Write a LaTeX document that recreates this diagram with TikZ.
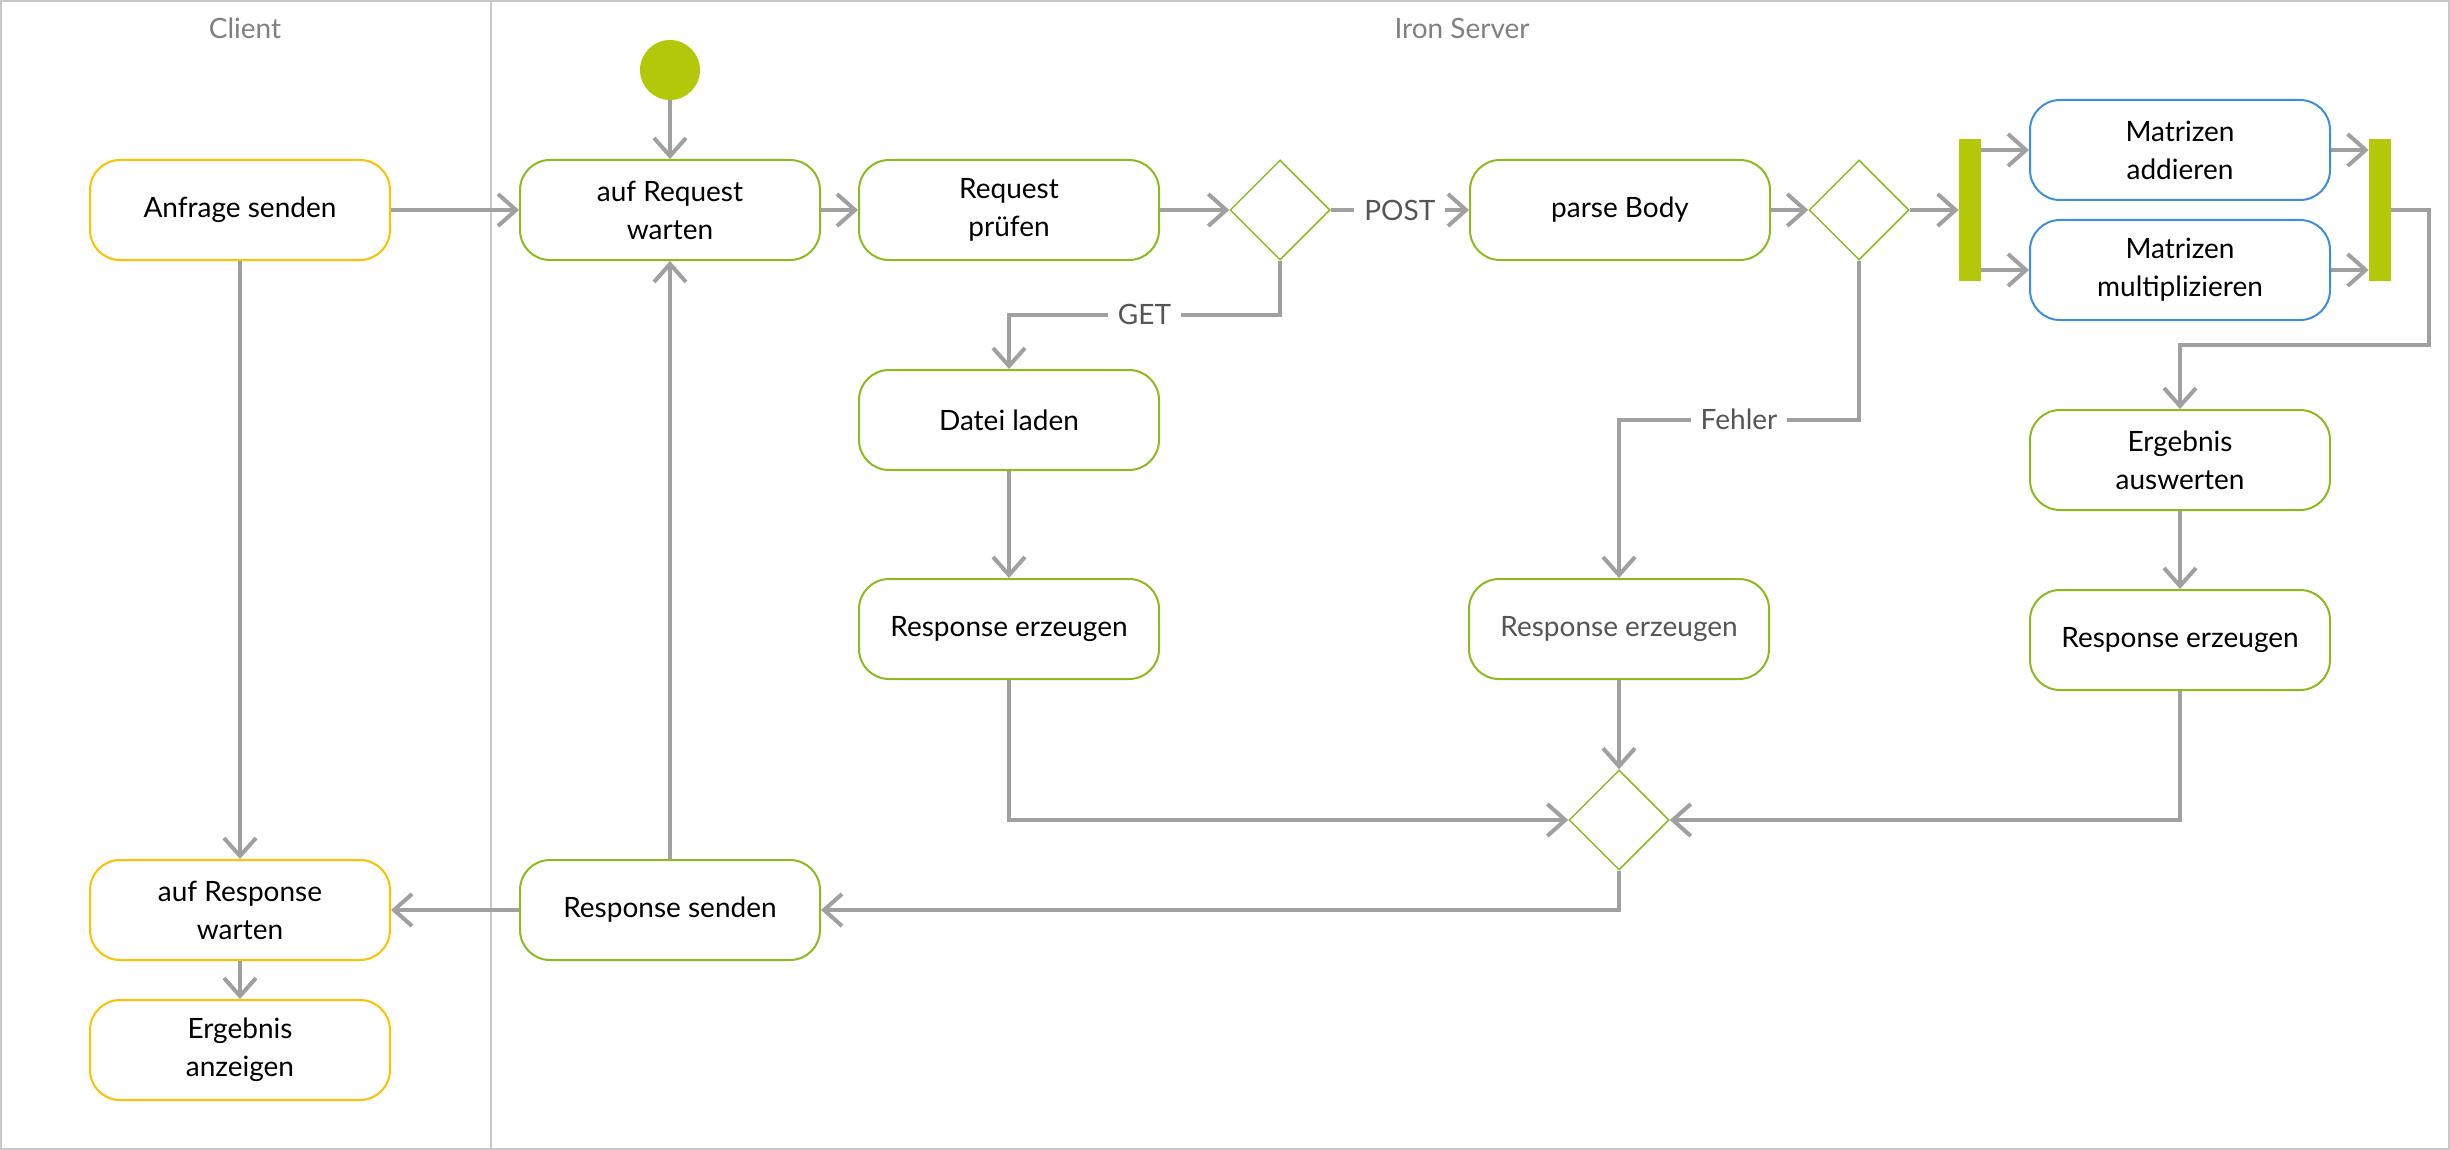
\documentclass[tikz,border=0pt]{standalone}
\usepackage{fontspec}
\setmainfont{Lato}
\usetikzlibrary{shapes.geometric,arrows.meta}
\definecolor{clientcol}{HTML}{FFC000}
\definecolor{srvcol}{HTML}{8DBA1E}
\definecolor{barcol}{HTML}{B4C80A}
\definecolor{parcol}{HTML}{3D8FDC}
\definecolor{flowcol}{HTML}{A0A0A0}
\definecolor{lanecol}{HTML}{C8C8C8}
\definecolor{titlecol}{HTML}{808080}
\definecolor{labelcol}{HTML}{555555}
\tikzset{
  act/.style={rectangle, rounded corners=15pt, draw, line width=1pt,
    minimum width=150pt, minimum height=50pt, align=center, fill=white,
    text=black, inner sep=2pt, font=\fontsize{14}{19}\selectfont},
  clientact/.style={act, draw=clientcol},
  srvact/.style={act, draw=srvcol},
  paract/.style={act, draw=parcol},
  decision/.style={diamond, draw=srvcol, line width=0.75pt, fill=white,
    minimum width=50pt, minimum height=50pt, inner sep=0pt, aspect=1},
  forkbar/.style={rectangle, fill=barcol, minimum width=11pt,
    minimum height=71pt, inner sep=0pt},
  startnode/.style={circle, fill=barcol, minimum size=30pt, inner sep=0pt},
  flow/.style={draw=flowcol, line width=2pt,
    -{Straight Barb[length=9pt,width=16pt,line width=2pt]}},
  flowlabel/.style={fill=white, text=labelcol, inner sep=5pt,
    font=\fontsize{14}{19}\selectfont},
  lanetitle/.style={text=titlecol, font=\fontsize{14}{19}\selectfont},
}
\begin{document}
\begin{tikzpicture}[x=0.5pt,y=-0.5pt]
  \useasboundingbox (0,0) rectangle (2450,1150);
  % swimlane frame
  \draw[lanecol, line width=1pt] (1,1) rectangle (2449,1149);
  \draw[lanecol, line width=0.75pt] (491,1) -- (491,1149);
  \node[lanetitle] (tclient) at (245,28) {Client};
  \node[lanetitle] (tserver) at (1462,28) {Iron Server};

  % client lane
  \node[clientact] (anfrage) at (240,210) {Anfrage senden};
  \node[clientact] (rwait) at (240,910) {auf Response\\warten};
  \node[clientact] (anzeigen) at (240,1050) {Ergebnis\\anzeigen};

  % server lane
  \node[startnode] (start) at (670,70) {};
  \node[srvact] (req) at (670,210) {auf Request\\warten};
  \node[srvact] (pruefen) at (1009,210) {Request\\prüfen};
  \node[decision] (d1) at (1280,210) {};
  \node[srvact] (parse) at (1620,210) {parse Body};
  \node[decision] (d2) at (1859,210) {};
  \node[forkbar] (fork) at (1970,210) {};
  \node[paract] (add) at (2180,150) {Matrizen\\addieren};
  \node[paract] (mul) at (2180,270) {Matrizen\\multiplizieren};
  \node[forkbar] (join) at (2380,210) {};
  \node[srvact] (erg) at (2180,460) {Ergebnis\\auswerten};
  \node[srvact] (resp3) at (2180,640) {Response erzeugen};
  \node[srvact] (datei) at (1009,420) {Datei laden};
  \node[srvact] (resp1) at (1009,629) {Response erzeugen};
  \node[srvact, text=labelcol] (resp2) at (1619,629) {Response erzeugen};
  \node[decision] (merge) at (1619,820) {};
  \node[srvact] (send) at (670,910) {Response senden};

  % control flow
  \draw[flow] (anfrage.east) -- (req.west);
  \draw[flow] (anfrage.south) -- (rwait.north);
  \draw[flow] (rwait.south) -- (anzeigen.north);
  \draw[flow] (start) -- (req.north);
  \draw[flow] (req.east) -- (pruefen.west);
  \draw[flow] (pruefen.east) -- (d1.west);
  \draw[flow] (d1.east) -- node[flowlabel] (lpost) {POST} (parse.west);
  \draw[flow] (d1.south) -- ++(0,54) -| node[flowlabel, pos=0.25] (lget) {GET} (datei.north);
  \draw[flow] (datei.south) -- (resp1.north);
  \draw[flow] (parse.east) -- (d2.west);
  \draw[flow] (d2.east) -- (fork.west);
  \draw[flow] (d2.south) -- ++(0,159) -| node[flowlabel, pos=0.25] (lfehler) {Fehler} (resp2.north);
  \draw[flow] (fork.east |- add.west) -- (add.west);
  \draw[flow] (fork.east |- mul.west) -- (mul.west);
  \draw[flow] (add.east) -- (join.west |- add.east);
  \draw[flow] (mul.east) -- (join.west |- mul.east);
  \draw[flow] (join.east) -- ++(38,0) -- ++(0,135) -| (erg.north);
  \draw[flow] (erg.south) -- (resp3.north);
  \draw[flow] (resp1.south) |- (merge.west);
  \draw[flow] (resp2.south) -- (merge.north);
  \draw[flow] (resp3.south) |- (merge.east);
  \draw[flow] (merge.south) |- (send.east);
  \draw[flow] (send.west) -- (rwait.east);
  \draw[flow] (send.north) -- (req.south);
\end{tikzpicture}
\end{document}
